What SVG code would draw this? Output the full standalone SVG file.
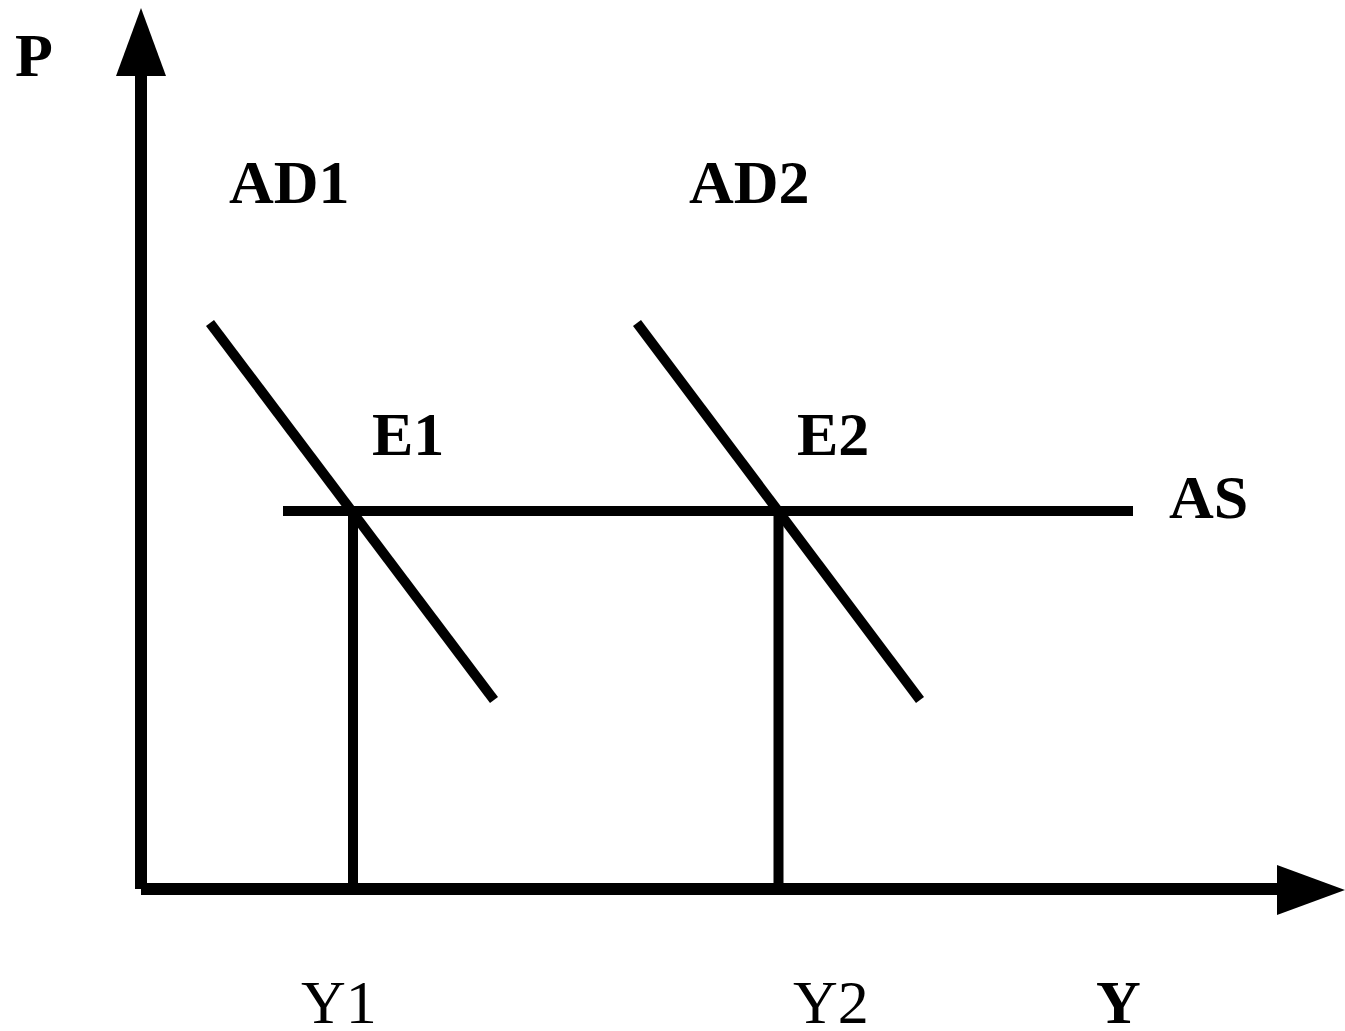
<svg xmlns="http://www.w3.org/2000/svg" width="1345" height="1031" viewBox="0 0 1345 1031">
<style>
.ln{stroke:#000;stroke-width:10;fill:none;stroke-linecap:butt}
.ax{stroke:#000;stroke-width:12;fill:none}
.hd{fill:#000}
text{font-family:"Liberation Serif","Times New Roman",serif;font-size:62px;fill:#000}
.b{font-weight:bold}
</style>
<rect width="1345" height="1031" fill="#fff"/>
<g id="axes">
<line class="ax" x1="141" y1="74" x2="141" y2="889"/>
<line class="ax" x1="141" y1="889" x2="1279" y2="889"/>
<polygon class="hd" points="141,8 166,76 116,76"/>
<polygon class="hd" points="1345,890 1277,865 1277,915"/>
</g>
<g id="connectors">
<line id="AD1-line" class="ln" x1="210" y1="323" x2="494" y2="700"/>
<line id="AD2-line" class="ln" x1="637" y1="323" x2="920" y2="700"/>
<line id="AS-line" class="ln" x1="283" y1="511" x2="1133" y2="511"/>
<line id="Y1-line" class="ln" x1="353" y1="511" x2="353" y2="889"/>
<line id="Y2-line" class="ln" x1="778.5" y1="511" x2="778.5" y2="889"/>
</g>
<g id="labels">
<text id="P" class="b" x="15" y="76">P</text>
<text id="AD1" class="b" x="229" y="203">AD1</text>
<text id="AD2" class="b" x="689" y="203">AD2</text>
<text id="E1" class="b" x="372" y="455">E1</text>
<text id="E2" class="b" x="797" y="455">E2</text>
<text id="AS" class="b" x="1169" y="518">AS</text>
<text id="Y1" x="301" y="1023">Y1</text>
<text id="Y2" x="793" y="1023">Y2</text>
<text id="Y" class="b" x="1096" y="1023">Y</text>
</g>
</svg>
